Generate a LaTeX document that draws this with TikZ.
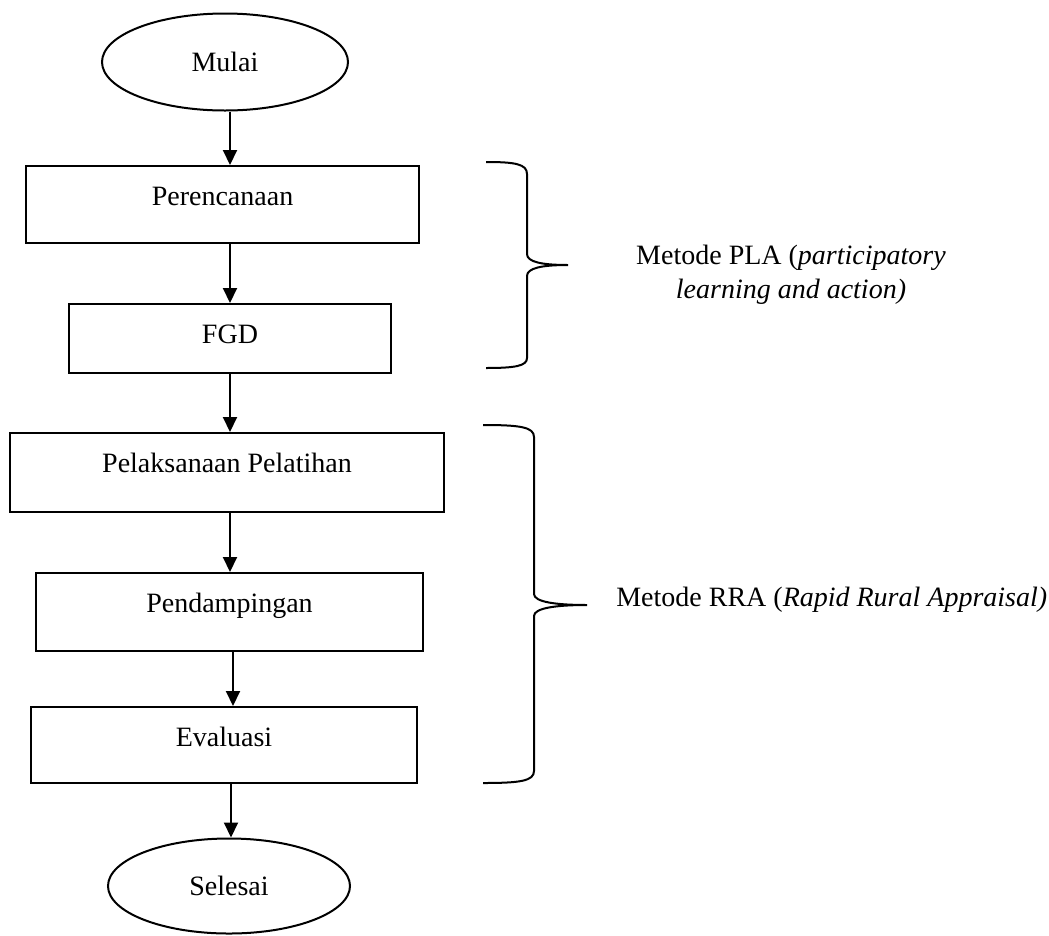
\documentclass[tikz,border=0pt]{standalone}
\usepackage{fontspec}
\setmainfont{Liberation Serif}
\usetikzlibrary{shapes.geometric,arrows.meta}
\begin{document}
\begin{tikzpicture}[x=1pt,y=-1pt,line width=2pt]
   \tikzset{every node/.style={font=\fontsize{28}{34}\selectfont},
            oval/.style={draw, ellipse, inner sep=0pt, minimum width=246pt, minimum height=97pt},
            box/.style 2 args={draw, inner sep=0pt, anchor=north, text height=39pt, minimum width=#1, text depth=#2},
            arr/.style={-{Triangle[length=15pt,width=14pt]}}};
\useasboundingbox (0,0) rectangle (1049,935);

\node[oval] (0) at (225,62) {Mulai};
\node[box={393pt}{38pt}] (1) at (222.5,165) {Perencanaan};
\node[box={322pt}{30pt}] (2) at (230,303) {FGD};
\node[box={434pt}{40pt}] (3) at (227,432) {Pelaksanaan Pelatihan};
\node[box={387pt}{39pt}] (4) at (229.5,572) {Pendampingan};
\node[box={386pt}{37pt}] (5) at (224,706) {Evaluasi};
\node[oval, minimum width=242pt, minimum height=95pt] (6) at (229,886) {Selesai};

\node[align=center] (7) at (791,275) {Metode PLA (\textit{participatory}\\\textit{learning and action)}};
\node[anchor=west] (8) at (612,600) {Metode RRA (\textit{Rapid Rural Appraisal)}};
%-
%arrows--------------------------

\draw[arr] (0.south -| 230,0) -- (1.north -| 230,0);
\draw[arr] (1.south -| 230,0) -- (2.north -| 230,0);
\draw[arr] (2.south -| 230,0) -- (3.north -| 230,0);
\draw[arr] (3.south -| 230,0) -- (4.north -| 230,0);
\draw[arr] (4.south -| 233,0) -- (5.north -| 233,0);
\draw[arr] (5.south -| 231,0) -- (6.north -| 231,0);

%braces-----------------------------

\draw (486,162) .. controls (515,162) and (527,164) .. (527,174) -- (527,254)
      .. controls (527,262) and (542,265) .. (568,265)
      .. controls (542,265) and (527,268) .. (527,276) -- (527,358)
      .. controls (527,366) and (515,368) .. (486,368);

\draw (483,425) .. controls (520,425) and (534,427) .. (534,437) -- (534,594)
      .. controls (534,602) and (556,605) .. (587,605)
      .. controls (556,605) and (534,608) .. (534,616) -- (534,771)
      .. controls (534,781) and (520,783) .. (483,783);

\end{tikzpicture}
\end{document}
